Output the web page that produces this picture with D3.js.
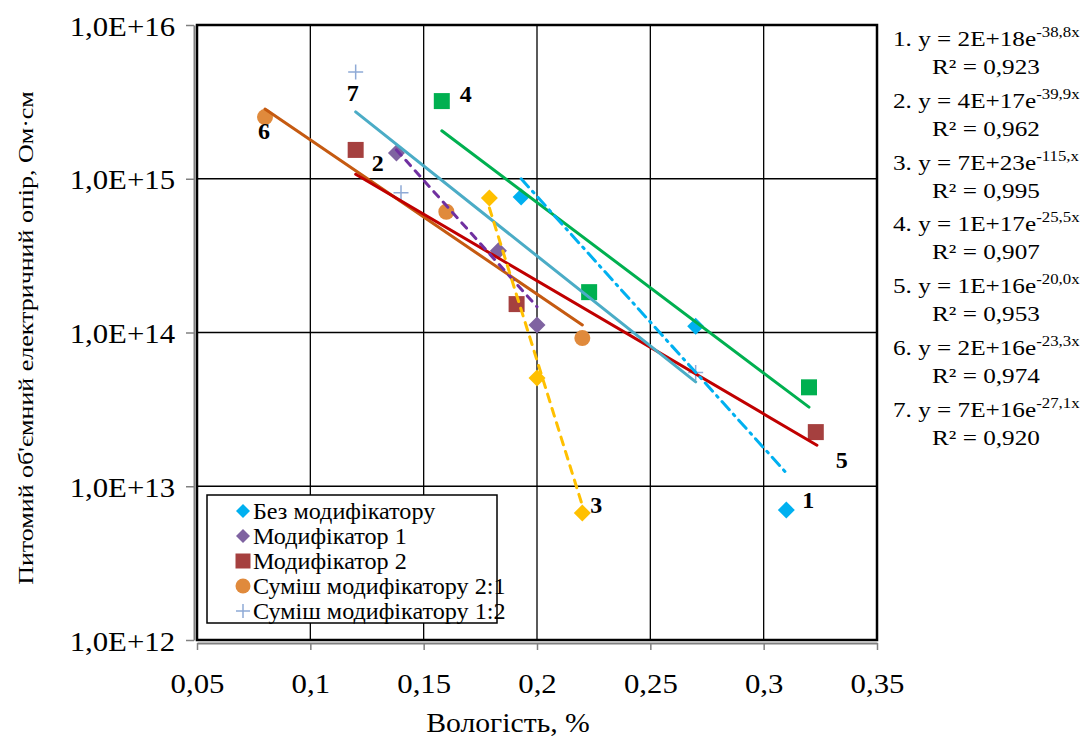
<!DOCTYPE html>
<html><head><meta charset="utf-8">
<script src="https://cdn.jsdelivr.net/npm/d3@7"></script>
<style>
body{margin:0;background:#fff}
text{font-family:"Liberation Serif","Times New Roman",serif;fill:#000}
</style>
</head><body>
<svg id="chart" width="1088" height="740"></svg>
<script>
// axis ticks
var xTicks=[0.05,0.1,0.15,0.2,0.25,0.3,0.35];
var xTickLabels=["0,05","0,1","0,15","0,2","0,25","0,3","0,35"];
var yTicks=[1e12,1e13,1e14,1e15,1e16];
var yTickLabels=["1,0E+12","1,0E+13","1,0E+14","1,0E+15","1,0E+16"];

// measured points
var bezX=[0.193,0.27,0.31],  bezY=[7.6e14,1.1e14,7.0e12];       // Без модифікатору
var mod1X=[0.138,0.183,0.2], mod1Y=[1.47e15,3.4e14,1.12e14];    // Модифікатор 1
var mod2X=[0.12,0.191,0.323],mod2Y=[1.54e15,1.53e14,2.25e13];   // Модифікатор 2
var mix21X=[0.08,0.16,0.22], mix21Y=[2.52e15,6.1e14,9.2e13];    // Суміш 2:1
var mix12X=[0.12,0.14,0.27], mix12Y=[4.95e15,8.1e14,5.5e13];    // Суміш 1:2
var yelX=[0.179,0.2,0.22],   yelY=[7.5e14,5.06e13,6.7e12];
var grnX=[0.158,0.223,0.32], grnY=[3.2e15,1.83e14,4.4e13];

// trend line ends
var tr1X=[0.193,0.31],  tr1Y=[1.0e15,1.22e13];
var tr2X=[0.138,0.2],   tr2Y=[1.54e15,1.47e14];
var tr3X=[0.179,0.22],  tr3Y=[6.45e14,7.5e12];
var tr4X=[0.158,0.32],  tr4Y=[2.05e15,3.27e13];
var tr5X=[0.12,0.3235], tr5Y=[1.07e15,1.85e13];
var tr6X=[0.08,0.22],   tr6Y=[2.84e15,1.12e14];
var tr7X=[0.12,0.27],   tr7Y=[2.72e15,4.77e13];

var eqCoef=["2E+18","4E+17","7E+23","1E+17","1E+16","2E+16","7E+16"];
var eqExp=["-38,8x","-39,9x","-115,x","-25,5x","-20,0x","-23,3x","-27,1x"];
var eqR2=["0,923","0,962","0,995","0,907","0,953","0,974","0,920"];

var legendNames=["Без модифікатору","Модифікатор 1","Модифікатор 2","Суміш модифікатору 2:1","Суміш модифікатору 1:2"];

var x0=197,x1=877,y0=25,y1=640;
var svg=d3.select("#chart");
svg.append("rect").attr("width",1088).attr("height",740).attr("fill","#fff");

var x=d3.scaleLinear().domain([0.05,0.35]).range([x0,x1]);
var y=d3.scaleLog().domain([1e12,1e16]).range([y1,y0]);

function zip(a,b){return a.map(function(v,i){return [v,b[i]];});}
function stretch(sel,k){
  sel.attr("transform",function(){
    var tx=+this.getAttribute("x")||0, ty=+this.getAttribute("y")||0;
    return "translate("+tx+","+ty+") scale("+k+",1) translate("+(-tx)+","+(-ty)+")";
  });
}

// grid
svg.append("g").selectAll("line").data(xTicks).enter().append("line")
  .attr("x1",function(d){return x(d);}).attr("x2",function(d){return x(d);})
  .attr("y1",y0).attr("y2",y1).attr("stroke","#000").attr("stroke-width",1.3);
svg.append("g").selectAll("line").data(yTicks).enter().append("line")
  .attr("x1",x0).attr("x2",x1)
  .attr("y1",function(d){return y(d);}).attr("y2",function(d){return y(d);})
  .attr("stroke","#000").attr("stroke-width",1.3);
svg.append("rect").attr("x",x0).attr("y",y0).attr("width",x1-x0).attr("height",y1-y0)
  .attr("fill","none").attr("stroke","#000").attr("stroke-width",2.5);

// axes
var gy=svg.append("g").attr("transform","translate("+(x0-3)+",0)")
  .call(d3.axisLeft(y).tickValues(yTicks).tickFormat(function(d,i){return yTickLabels[i];})
    .tickSize(8).tickSizeOuter(0).tickPadding(11));
gy.attr("font-family",null);
gy.select(".domain").attr("stroke","#808080").attr("stroke-width",2);
gy.selectAll(".tick line").attr("stroke","#808080").attr("stroke-width",1.5);
gy.selectAll(".tick text").attr("font-size",27).attr("fill","#000")
  .attr("x",-19).attr("dy","10px").call(stretch,1.14);

var gx=svg.append("g").attr("transform","translate(0,"+(y1+3)+")")
  .call(d3.axisBottom(x).tickValues(xTicks).tickFormat(function(d,i){return xTickLabels[i];})
    .tickSize(7).tickSizeOuter(0));
gx.attr("font-family",null);
gx.select(".domain").attr("stroke","#808080").attr("stroke-width",2);
gx.selectAll(".tick line").attr("stroke","#808080").attr("stroke-width",1.5);
gx.selectAll(".tick text").attr("font-size",27).attr("fill","#000")
  .attr("y",50).attr("dy",0).call(stretch,1.14);

svg.append("text").attr("x",508).attr("y",732).attr("text-anchor","middle")
  .attr("font-size",27).text("Вологість, %").call(stretch,1.1);
svg.append("text").attr("text-anchor","middle").attr("font-size",26)
  .attr("transform","translate(33,338) rotate(-90) scale(1,0.78)")
  .text("Питомий об'ємний електричний опір, Ом·см");

// markers
function diamond(s){return "M0,"+(-s)+"L"+s+",0L0,"+s+"L"+(-s)+",0Z";}
function square(s){return "M"+(-s)+","+(-s)+"H"+s+"V"+s+"H"+(-s)+"Z";}
function circle(s){return "M"+(-s)+",0A"+s+","+s+" 0 1,0 "+s+",0A"+s+","+s+" 0 1,0 "+(-s)+",0Z";}
function plus(s){return "M"+(-s)+",0H"+s+"M0,"+(-s)+"V"+s;}

var series=[
  {pts:zip(bezX,bezY),  shape:diamond(8.5), fill:"#00B0F0"},
  {pts:zip(mod1X,mod1Y),shape:diamond(8.5), fill:"#7F63A1"},
  {pts:zip(mod2X,mod2Y),shape:square(8),    fill:"#A5403F"},
  {pts:zip(mix21X,mix21Y),shape:circle(8),  fill:"#E08A3C"},
  {pts:zip(mix12X,mix12Y),shape:plus(7.5),  fill:"none", stroke:"#8FAAD6"},
  {pts:zip(yelX,yelY),  shape:diamond(8.5), fill:"#FFC000"},
  {pts:zip(grnX,grnY),  shape:square(8),    fill:"#00B050"}
];
series.forEach(function(s){
  svg.append("g").selectAll("path").data(s.pts).enter().append("path")
    .attr("d",s.shape)
    .attr("transform",function(d){return "translate("+x(d[0])+","+y(d[1])+")";})
    .attr("fill",s.fill).attr("stroke",s.stroke||"none").attr("stroke-width",1.5);
});

// trend lines
var line=d3.line().x(function(d){return x(d[0]);}).y(function(d){return y(d[1]);});
var trends=[
  {pts:zip(tr6X,tr6Y),color:"#C55A11",dash:null},
  {pts:zip(tr5X,tr5Y),color:"#C00000",dash:null},
  {pts:zip(tr7X,tr7Y),color:"#4BACC6",dash:null},
  {pts:zip(tr4X,tr4Y),color:"#00B050",dash:null},
  {pts:zip(tr2X,tr2Y),color:"#7030A0",dash:"7,7"},
  {pts:zip(tr3X,tr3Y),color:"#FFC000",dash:"8,7"},
  {pts:zip(tr1X,tr1Y),color:"#00B0F0",dash:"11,6,2,6"}
];
trends.forEach(function(t){
  svg.append("path").attr("d",line(t.pts)).attr("fill","none")
    .attr("stroke",t.color).attr("stroke-width",3).attr("stroke-linecap","round")
    .attr("stroke-dasharray",t.dash);
});

// series number labels, placed next to a point
var numLabels=[
  {text:"1",s:0,i:2,dx:22,dy:-2},
  {text:"2",s:2,i:0,dx:22,dy:21},
  {text:"3",s:5,i:2,dx:14,dy:0},
  {text:"4",s:6,i:0,dx:24,dy:1},
  {text:"5",s:2,i:2,dx:26,dy:36},
  {text:"6",s:3,i:0,dx:-1,dy:22},
  {text:"7",s:4,i:0,dx:-3,dy:29}
];
svg.append("g").selectAll("text").data(numLabels).enter().append("text")
  .attr("x",function(d){return x(series[d.s].pts[d.i][0])+d.dx;})
  .attr("y",function(d){return y(series[d.s].pts[d.i][1])+d.dy;})
  .attr("text-anchor","middle").attr("font-size",24).attr("font-weight","bold")
  .text(function(d){return d.text;});

// legend
var lg=svg.append("g");
lg.append("rect").attr("x",207).attr("y",495).attr("width",290).attr("height",128)
  .attr("fill","#fff").attr("stroke","#000").attr("stroke-width",1.5);
legendNames.forEach(function(n,i){
  var cy=511+i*25;
  var s=series[i];
  var shp=i===0||i===1?diamond(7):i===2?square(7.5):i===3?circle(7.5):plus(7);
  lg.append("path").attr("d",shp).attr("transform","translate(243,"+cy+")")
    .attr("fill",s.fill).attr("stroke",s.stroke||"none").attr("stroke-width",1.5);
  lg.append("text").attr("x",253).attr("y",cy+8).attr("font-size",23).text(n).call(stretch,1.05);
});

// equations
eqCoef.forEach(function(c,i){
  var by=46+i*61.8;
  var t=svg.append("text").attr("x",893).attr("y",by).attr("font-size",21);
  t.append("tspan").text((i+1)+". y = "+c+"e");
  t.append("tspan").attr("font-size",14).attr("dy",-9).text(eqExp[i]);
  t.call(stretch,1.2);
  svg.append("text").attr("x",932).attr("y",by+28).attr("font-size",21)
    .text("R² = "+eqR2[i]).call(stretch,1.2);
});
</script>
</body></html>
